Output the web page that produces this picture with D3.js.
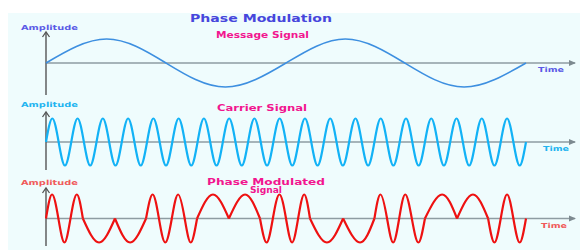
<!DOCTYPE html>
<html>
<head>
<meta charset="utf-8">
<title>Phase Modulation</title>
<script src="https://cdn.jsdelivr.net/npm/d3@7"></script>
<style>
  body { margin: 0; background: #fff; }
  svg text { font-family: "DejaVu Sans", sans-serif; font-weight: bold; }
</style>
</head>
<body>
<svg id="chart"></svg>
<script>
// time measured in carrier cycles
var tMax = 19;

// message signal: zero crossings and extremes
var messageT = [0, 2.4, 4.75, 7.1, 9.5, 11.85, 14.2, 16.55, 19];
var messageV = [0, 1, 0, -1, 0, 1, 0, -1, 0];

// carrier: one value every quarter cycle
var carrierStep = 0.25;
var carrierV = [0, 1, 0, -1, 0, 1, 0, -1, 0, 1, 0, -1, 0, 1, 0, -1, 0, 1, 0, -1,
  0, 1, 0, -1, 0, 1, 0, -1, 0, 1, 0, -1, 0, 1, 0, -1, 0, 1, 0, -1,
  0, 1, 0, -1, 0, 1, 0, -1, 0, 1, 0, -1, 0, 1, 0, -1, 0, 1, 0, -1,
  0, 1, 0, -1, 0, 1, 0, -1, 0, 1, 0, -1, 0, 1, 0, -1, 0];

// phase modulated signal: extremes and zero crossings
var pmT = [0, 0.24, 0.49, 0.73, 0.97, 1.22, 1.46, 2.1, 2.73, 3.33, 3.96,
  4.22, 4.47, 4.72, 4.98, 5.23, 5.49, 5.73, 5.98, 6.61, 7.24, 7.88, 8.47,
  8.73, 8.98, 9.24, 9.5, 9.74, 9.98, 10.22, 10.45, 11.12, 11.76, 12.43, 13.0,
  13.24, 13.5, 13.74, 13.98, 14.22, 14.48, 14.74, 15.0, 15.68, 16.27, 16.9, 17.5,
  17.75, 18.0, 18.25, 18.5, 18.75, 19];
var pmV = [0, 1, 0, -1, 0, 1, 0, -1, 0, -1, 0,
  1, 0, -1, 0, 1, 0, -1, 0, 1, 0, 1, 0,
  -1, 0, 1, 0, -1, 0, 1, 0, -1, 0, -1, 0,
  1, 0, -1, 0, 1, 0, -1, 0, 1, 0, 1, 0,
  -1, 0, 1, 0, -1, 0];
// times where the curve bends sharply (cusps / frequency changes)
var pmJoins = [1.46, 2.73, 3.96, 5.98, 7.24, 8.47, 10.45, 11.76, 13.0, 15.0, 16.27, 17.5];

var W = 580, H = 250;
var svg = d3.select("#chart").attr("width", W).attr("height", H);

svg.append("rect").attr("x", 8).attr("y", 13).attr("width", W - 8).attr("height", H - 13)
  .attr("fill", "#effcfd");

var x = d3.scaleLinear().domain([0, tMax]).range([46, 526]);

var panels = [
  { axisY: 63, amp: 24, top: 32, bottom: 95, color: "#3d8fe0", width: 1.6,
    labelColor: "#5a5ae6", ampY: 30, timeX: 538, timeY: 72,
    pts: messageT.map(function (t, i) { return [t, messageV[i]]; }) },
  { axisY: 142, amp: 23.5, top: 112, bottom: 170, color: "#12b2f6", width: 2.2,
    labelColor: "#22b4f0", ampY: 107, timeX: 543, timeY: 151,
    pts: carrierV.map(function (v, i) { return [i * carrierStep, v]; }) },
  { axisY: 218.5, amp: 24, top: 188, bottom: 246, color: "#ee1111", width: 2.2,
    labelColor: "#f05a5a", ampY: 185, timeX: 541, timeY: 228,
    pts: pmT.map(function (t, i) { return [t, pmV[i]]; }) }
];

panels.forEach(function (p, k) {
  var y = d3.scaleLinear().domain([-1, 1]).range([p.axisY + p.amp, p.axisY - p.amp]);
  var g = svg.append("g");

  // horizontal axis with arrow
  g.append("line").attr("x1", x(0)).attr("x2", 575).attr("y1", p.axisY).attr("y2", p.axisY)
    .attr("stroke", "#8e9ca2").attr("stroke-width", 1.3);
  g.append("path").attr("d", "M569," + (p.axisY - 3) + "L576," + p.axisY + "L569," + (p.axisY + 3) + "Z")
    .attr("fill", "#7d8a90");
  // vertical axis with arrow
  g.append("line").attr("x1", x(0)).attr("x2", x(0)).attr("y1", p.top).attr("y2", p.bottom)
    .attr("stroke", "#555").attr("stroke-width", 1.4);
  g.append("path").attr("d", "M" + (x(0) - 3.5) + "," + (p.top + 5) + "L" + x(0) + "," + p.top + "L" + (x(0) + 3.5) + "," + (p.top + 5))
    .attr("fill", "none").attr("stroke", "#555").attr("stroke-width", 1.3);

  var line = d3.line().x(function (d) { return x(d[0]); }).y(function (d) { return y(d[1]); })
    .curve(d3.curveNatural);

  // split series into smooth pieces at sharp joins
  var pieces = [[]];
  var joins = k === 2 ? pmJoins : [];
  p.pts.forEach(function (d) {
    pieces[pieces.length - 1].push(d);
    if (joins.indexOf(d[0]) >= 0) pieces.push([d]);
  });
  g.selectAll("path.sig").data(pieces).enter().append("path").attr("class", "sig")
    .attr("d", line).attr("fill", "none").attr("stroke", p.color)
    .attr("stroke-width", p.width).attr("stroke-linejoin", "round");

  g.append("text").attr("x", 21).attr("y", p.ampY).attr("font-size", 7)
    .attr("textLength", 57).attr("lengthAdjust", "spacingAndGlyphs")
    .attr("fill", p.labelColor).text("Amplitude");
  g.append("text").attr("x", p.timeX).attr("y", p.timeY).attr("font-size", 7)
    .attr("textLength", 26).attr("lengthAdjust", "spacingAndGlyphs")
    .attr("fill", p.labelColor).text("Time");
});

svg.append("text").attr("x", 190).attr("y", 22).attr("font-size", 10)
  .attr("textLength", 142).attr("lengthAdjust", "spacingAndGlyphs")
  .attr("fill", "#4646dc").text("Phase Modulation");

var pink = "#f2158f";
[["Message Signal", 216, 38, 93], ["Carrier Signal", 217, 111, 90],
 ["Phase Modulated", 207, 185, 118], ["Signal", 250, 192.5, 32]].forEach(function (s) {
  svg.append("text").attr("x", s[1]).attr("y", s[2]).attr("font-size", 8)
    .attr("textLength", s[3]).attr("lengthAdjust", "spacingAndGlyphs")
    .attr("fill", pink).text(s[0]);
});
</script>
</body>
</html>
